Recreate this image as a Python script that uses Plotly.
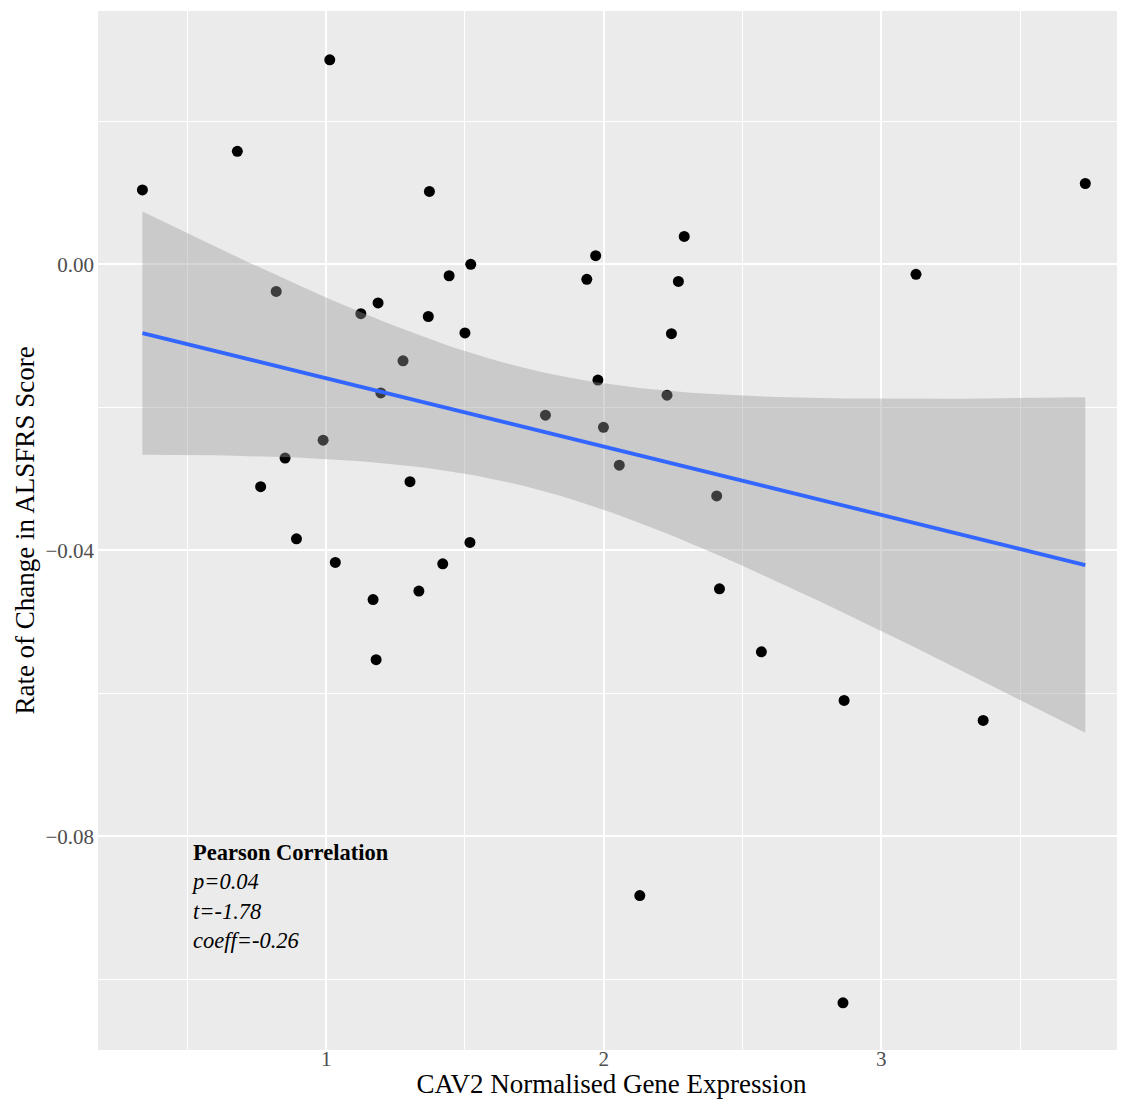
import numpy as np
import plotly.graph_objects as go

# CAV2 normalised gene expression (x) and rate of change in ALSFRS score (y)
cav2_expr = [0.338, 0.680, 1.013, 1.372, 1.521, 1.443, 0.820, 1.187, 1.125, 1.368,
             1.500, 1.277, 1.197, 0.989, 0.852, 0.764, 1.302, 0.893, 1.518, 1.033,
             1.420, 1.334, 1.169, 1.180, 2.290, 1.971, 1.939, 2.269, 2.244, 1.979,
             2.228, 1.790, 1.999, 2.056, 2.407, 2.417, 2.568, 2.866, 3.367, 2.130,
             2.862, 3.125, 3.735]
alsfrs_rate = [0.0104, 0.0158, 0.0286, 0.0102, 0.0000, -0.0016, -0.0038, -0.0054, -0.0069, -0.0073,
               -0.0096, -0.0135, -0.0180, -0.0246, -0.0271, -0.0311, -0.0304, -0.0384, -0.0389, -0.0417,
               -0.0419, -0.0457, -0.0469, -0.0553, 0.0039, 0.0012, -0.0021, -0.0024, -0.0097, -0.0162,
               -0.0183, -0.0211, -0.0228, -0.0281, -0.0324, -0.0454, -0.0542, -0.0610, -0.0638, -0.0883,
               -0.1033, -0.0014, 0.0113]

x_major_ticks = [1, 2, 3]
x_major_labels = ["1", "2", "3"]
x_minor_ticks = [0.5, 1.5, 2.5, 3.5]
y_major_ticks = [0.0, -0.04, -0.08]
y_major_labels = ["0.00", "\u22120.04", "\u22120.08"]
y_minor_ticks = [0.02, -0.02, -0.06, -0.10]

stats_title = "Pearson Correlation"
stats_lines = ["p=0.04", "t=-1.78", "coeff=-0.26"]

x_title = "CAV2 Normalised Gene Expression"
y_title = "Rate of Change in ALSFRS Score"

# linear fit with 95% confidence band (as ggplot geom_smooth(method="lm"))
x = np.array(cav2_expr)
y = np.array(alsfrs_rate)
n = len(x)
slope, intercept = np.polyfit(x, y, 1)
resid = y - (slope * x + intercept)
s = np.sqrt(np.sum(resid ** 2) / (n - 2))
sxx = np.sum((x - x.mean()) ** 2)
t_crit = 2.0195  # t(0.975, df=41)
xs = np.linspace(x.min(), x.max(), 80)
fit = slope * xs + intercept
se = s * np.sqrt(1.0 / n + (xs - x.mean()) ** 2 / sxx)
upper = fit + t_crit * se
lower = fit - t_crit * se

fig = go.Figure()
fig.add_trace(go.Scatter(x=cav2_expr, y=alsfrs_rate, mode="markers",
                         marker=dict(color="black", size=11, line=dict(width=0)),
                         showlegend=False, hoverinfo="x+y"))
fig.add_trace(go.Scatter(x=np.concatenate([xs, xs[::-1]]),
                         y=np.concatenate([upper, lower[::-1]]),
                         fill="toself", fillcolor="rgba(153,153,153,0.4)",
                         line=dict(width=0), mode="lines",
                         showlegend=False, hoverinfo="skip"))
fig.add_trace(go.Scatter(x=xs, y=fit, mode="lines",
                         line=dict(color="#3366FF", width=3.8),
                         showlegend=False, hoverinfo="skip"))

annot_text = "<b>" + stats_title + "</b><br>" + "<br>".join("<i>" + s_ + "</i>" for s_ in stats_lines)
fig.add_annotation(x=0.505, y=-0.0803, xref="x", yref="y", xanchor="left", yanchor="top",
                   text=annot_text, showarrow=False, align="left",
                   font=dict(family="Liberation Serif", size=22.5, color="black"))

serif = "Liberation Serif"
# page body adds an 8px margin; the figure is sized so it ends exactly at the window edges
fig.update_layout(
    width=1117, height=1091,
    margin=dict(l=90, r=0, t=3, b=49, autoexpand=False),
    paper_bgcolor="white", plot_bgcolor="#EBEBEB",
    font=dict(family=serif, color="#4D4D4D"),
    xaxis=dict(range=[0.178, 3.878], tickmode="array", tickvals=x_major_ticks,
               ticktext=x_major_labels, showgrid=True, gridcolor="white", gridwidth=2,
               zeroline=False, showline=False, ticks="", ticklabelstandoff=-6,
               automargin=False,
               tickfont=dict(family=serif, size=21, color="#4D4D4D"),
               minor=dict(tickmode="array", tickvals=x_minor_ticks, showgrid=True,
                          gridcolor="white", gridwidth=1, ticks=""),
               title=dict(text=x_title, standoff=8,
                          font=dict(family=serif, size=27, color="black"))),
    yaxis=dict(range=[-0.1099, 0.03543], tickmode="array", tickvals=y_major_ticks,
               ticktext=y_major_labels, showgrid=True, gridcolor="white", gridwidth=2,
               zeroline=False, showline=False, ticks="", ticklabelstandoff=3,
               automargin=False,
               tickfont=dict(family=serif, size=21, color="#4D4D4D"),
               minor=dict(tickmode="array", tickvals=y_minor_ticks, showgrid=True,
                          gridcolor="white", gridwidth=1, ticks=""),
               title=dict(text=y_title, standoff=2,
                          font=dict(family=serif, size=27, color="black"))),
)

fig.write_html("out.html")
